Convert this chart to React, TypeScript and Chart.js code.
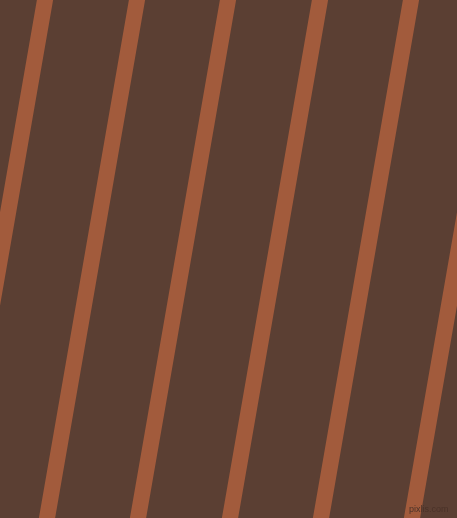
import React, { useEffect, useRef } from 'react';
import { Chart, registerables } from 'chart.js';

Chart.register(...registerables);

// x position of each stripe's centre where it meets the top edge and the bottom edge
const STRIPE_TOP_X = [45, 137, 228, 320, 411, 502];
const STRIPE_BOTTOM_X = [-45, 47, 138, 230, 321, 412];
const EDGE_Y = [0, 518];

const WIDTH = 457;
const HEIGHT = 518;

const backgroundPlugin = {
    id: 'stripeBackground',
    beforeDraw: (chart: Chart) => {
        const { ctx } = chart;
        ctx.save();
        ctx.fillStyle = '#5b3f33';
        ctx.fillRect(0, 0, chart.width, chart.height);
        ctx.restore();
    },
};

const App: React.FC = () => {
    const chartRef = useRef<HTMLCanvasElement>(null);

    useEffect(() => {
        let chartInstance: Chart | undefined;
        if (chartRef.current) {
            const ctx = chartRef.current.getContext('2d');
            if (ctx) {
                chartInstance = new Chart(ctx, {
                    type: 'line',
                    data: {
                        datasets: STRIPE_TOP_X.map((top, i) => ({
                            label: 'stripe ' + (i + 1),
                            data: [
                                { x: top, y: EDGE_Y[0] },
                                { x: STRIPE_BOTTOM_X[i], y: EDGE_Y[1] },
                            ],
                            borderColor: '#a25b3c',
                            borderWidth: 16,
                            borderCapStyle: 'square' as const,
                            pointRadius: 0,
                            tension: 0,
                        })),
                    },
                    options: {
                        responsive: false,
                        animation: false,
                        layout: { padding: 0 },
                        plugins: {
                            legend: { display: false },
                            tooltip: { enabled: false },
                        },
                        scales: {
                            x: { type: 'linear', min: 0, max: WIDTH, display: false },
                            y: { type: 'linear', min: 0, max: HEIGHT, reverse: true, display: false },
                        },
                    },
                    plugins: [backgroundPlugin],
                });
            }
        }
        return () => chartInstance?.destroy();
    }, []);

    return (
        <div style={{ position: 'fixed', left: 0, top: 0, width: WIDTH, height: HEIGHT, overflow: 'hidden' }}>
            <canvas ref={chartRef} width={WIDTH} height={HEIGHT}></canvas>
            <span
                style={{
                    position: 'absolute',
                    left: 409,
                    top: 504,
                    fontFamily: 'Liberation Sans, sans-serif',
                    fontSize: 9,
                    lineHeight: '11px',
                    whiteSpace: 'nowrap',
                    color: '#4a3228',
                }}
            >
                pixlis.com
            </span>
        </div>
    );
};

export default App;
